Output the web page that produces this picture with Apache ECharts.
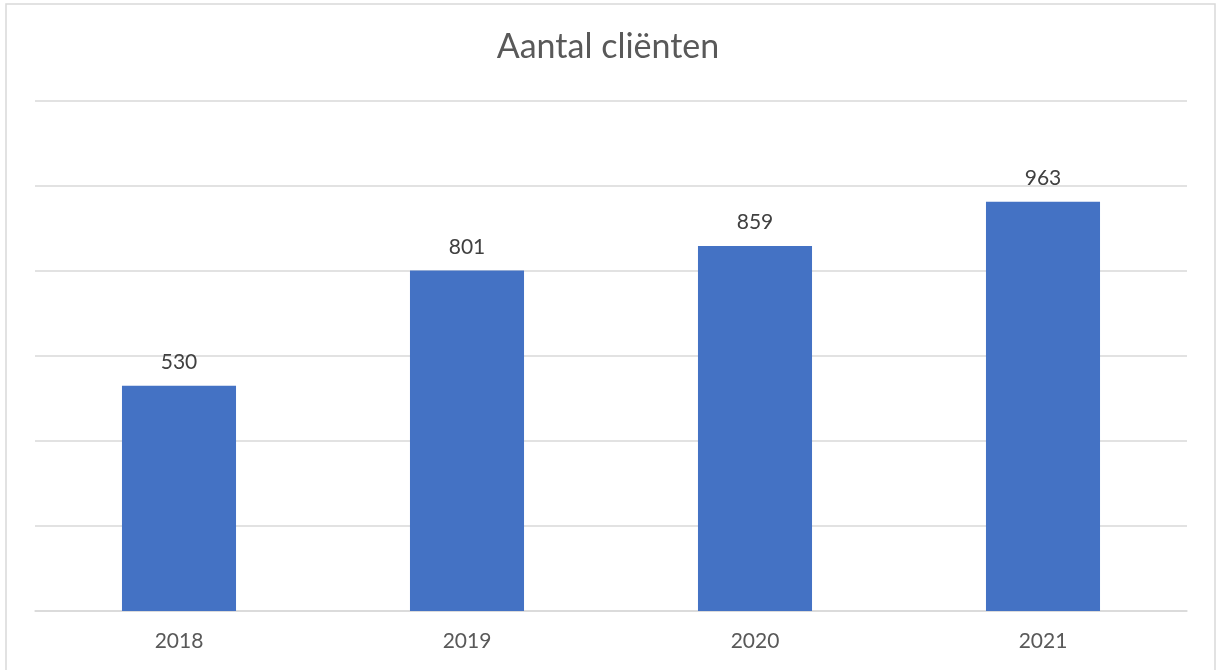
<!DOCTYPE html>
<html>
<head>
<meta charset="utf-8">
<script src="https://cdn.jsdelivr.net/npm/echarts@6/dist/echarts.min.js"></script>
<style>html,body{margin:0;padding:0;background:#fff;}#c{width:1216px;height:670px;}</style>
</head>
<body>
<div id="c"></div>
<script>
var categories = ['2018', '2019', '2020', '2021'];
var values = [530, 801, 859, 963];
var titleText = 'Aantal cliënten';

var chart = echarts.init(document.getElementById('c'));
chart.setOption({
  animation: false,
  backgroundColor: '#fff',
  title: {
    text: titleText,
    left: 'center',
    top: 25,
    textStyle: { fontFamily: 'Lato', fontWeight: 'normal', fontSize: 34, color: '#595959' }
  },
  graphic: [{
    type: 'rect',
    shape: { x: 6, y: 4, width: 1209, height: 680 },
    style: { fill: 'none', stroke: '#d9d9d9', lineWidth: 1.5 },
    silent: true
  }],
  grid: { left: 35, right: 29, top: 101, bottom: 59 },
  xAxis: {
    type: 'category',
    data: categories,
    axisTick: { show: false },
    axisLine: { lineStyle: { color: '#d9d9d9', width: 1.5 } },
    axisLabel: { fontFamily: 'Lato', fontSize: 21, color: '#595959', margin: 20 }
  },
  yAxis: {
    type: 'value',
    min: 0,
    max: 1200,
    interval: 200,
    axisLabel: { show: false },
    axisLine: { show: false },
    axisTick: { show: false },
    splitLine: { lineStyle: { color: '#d9d9d9', width: 1.5 } }
  },
  series: [{
    type: 'bar',
    data: values,
    barWidth: '39.6%',
    itemStyle: { color: '#4472c4' },
    label: { show: true, position: 'top', distance: 13, fontFamily: 'Lato', fontSize: 21, color: '#404040' }
  }]
});
</script>
</body>
</html>
